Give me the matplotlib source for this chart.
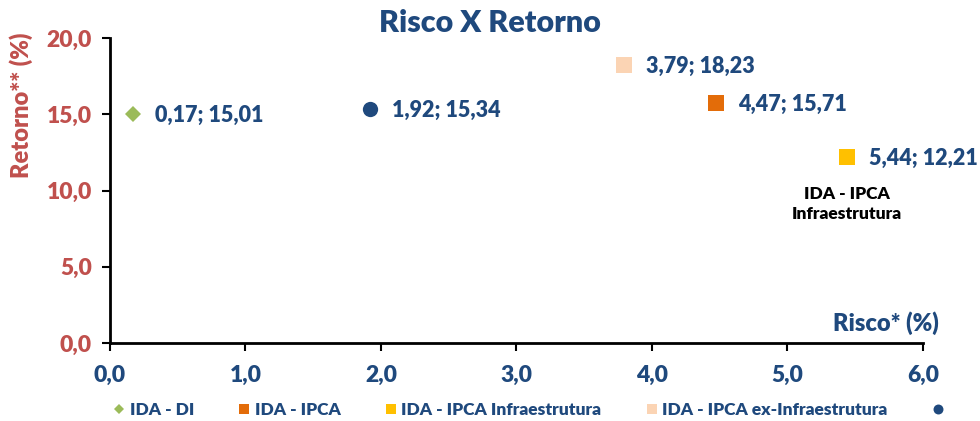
import matplotlib.pyplot as plt
from matplotlib.lines import Line2D

plt.rcParams['font.family'] = ['Lato', 'DejaVu Sans']
plt.rcParams['font.weight'] = 'heavy'
W = 'heavy'

# data
names = ['IDA - DI', 'IDA - IPCA', 'IDA - IPCA Infraestrutura', 'IDA - IPCA ex-Infraestrutura', '']
risco = [0.17, 4.47, 5.44, 3.79, 1.92]
retorno = [15.01, 15.71, 12.21, 18.23, 15.34]
colors = ['#9BBB59', '#E36C09', '#FFC000', '#FBD4B4', '#1F497D']
markers = ['D', 's', 's', 's', 'o']
sizes = [8, 11, 11, 11, 11]
x_ticks = [0, 1, 2, 3, 4, 5, 6]
y_ticks = [0, 5, 10, 15, 20]

blue = '#1F497D'
red = '#C0504D'

fig = plt.figure(figsize=(9.8, 4.21), dpi=100)
ax = fig.add_axes([0.1122, 0.1853, 0.8296, 0.7244])

for i in range(len(names)):
    ax.plot(risco[i], retorno[i], linestyle='none', marker=markers[i],
            markersize=sizes[i], color=colors[i], markeredgewidth=0, clip_on=False)
    lbl = f'{risco[i]:.2f}; {retorno[i]:.2f}'.replace('.', ',')
    ax.annotate(lbl, (risco[i], retorno[i]), xytext=(16, -1), textcoords='offset points',
                ha='left', va='center', fontsize=15.5, color=blue, fontweight=W)

ax.text(5.44, 10.3, 'IDA - IPCA\nInfraestrutura', ha='center', va='top', fontsize=12.5,
        color='black', fontweight=W, linespacing=1.3)

ax.set_xlim(0, 6)
ax.set_ylim(0, 20)
ax.set_xticks(x_ticks)
ax.set_yticks(y_ticks)
ax.set_xticklabels([f'{v:.1f}'.replace('.', ',') for v in x_ticks], fontsize=16.5, fontweight=W)
ax.set_yticklabels([f'{v:.1f}'.replace('.', ',') for v in y_ticks], fontsize=16.5, fontweight=W)
ax.tick_params(axis='both', direction='out', length=6, width=1.5, colors='black')
ax.tick_params(axis='x', pad=10)
ax.tick_params(axis='y', pad=7)
for t in ax.get_xticklabels():
    t.set_color(blue)
for t in ax.get_yticklabels():
    t.set_color(red)
ax.spines['top'].set_visible(False)
ax.spines['right'].set_visible(False)
ax.spines['left'].set_linewidth(2)
ax.spines['bottom'].set_linewidth(2)

fig.text(0.5, 0.945, 'Risco X Retorno', ha='center', va='center', fontsize=22, color=blue, fontweight=W)
fig.text(0.022, 0.75, 'Retorno** (%)', ha='center', va='center', rotation=90, fontsize=17, color=red, fontweight=W)
fig.text(0.958, 0.233, 'Risco* (%)', ha='right', va='center', fontsize=17, color=blue, fontweight=W)

leg_handles = [Line2D([], [], linestyle='none', marker=markers[i], color=colors[i],
                      markersize=sizes[i] * 0.65, markeredgewidth=0) for i in range(len(names))]
leg = fig.legend(leg_handles, names, loc='center', bbox_to_anchor=(0.542, 0.027), ncol=5,
                 frameon=False, fontsize=12.5, handlelength=0.6, handletextpad=0.3, columnspacing=2.6)
for t in leg.get_texts():
    t.set_color(blue)
    t.set_fontweight(W)

fig.savefig('out.png', dpi=100)
